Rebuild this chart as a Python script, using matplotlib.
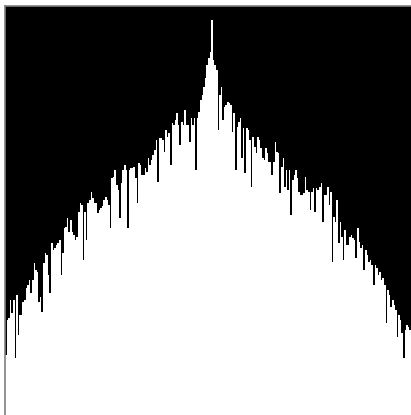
import matplotlib
matplotlib.use("Agg")
import matplotlib.pyplot as plt
import numpy as np

# histogram bin counts, 256 bins
counts_a = [60, 95, 97, 115, 102, 115, 57, 120, 80, 100,
            100, 113, 115, 127, 130, 135, 122, 135, 152, 145,
            143, 113, 118, 103, 152, 162, 160, 140, 122, 172,
            165, 167, 170, 172, 175, 140, 162, 187, 188, 197,
            183, 195, 183, 180, 175, 178, 203, 212, 210, 155,
            203, 175, 212, 215, 223, 217, 212, 212, 202, 205,
            207, 209, 215, 218, 215, 210, 187, 237, 238, 245,
            230, 225, 197, 232, 245, 250, 245, 187, 245, 247,
            247, 248, 237, 212, 252, 250, 240, 240, 247, 243,
            257, 250, 255, 260, 265, 275, 233, 277, 277, 275,
            263, 285, 278, 282, 250, 292, 290, 295, 302, 290,
            270, 293, 290, 305, 290, 290, 273, 297, 290, 297,
            245, 297, 303, 315, 320, 328, 337, 350, 357, 363]
counts_b = [395, 355, 350, 345, 285, 320, 328, 295, 308, 310,
            313, 312, 310, 283, 302, 245, 288, 293, 297, 257,
            287, 242, 287, 285, 275, 228, 278, 268, 262, 278,
            275, 267, 257, 255, 267, 262, 253, 253, 240, 253,
            273, 263, 262, 222, 248, 257, 228, 245, 225, 245,
            200, 235, 240, 245, 237, 223, 220, 220, 222, 238,
            225, 223, 205, 223, 227, 203, 227, 225, 228, 232,
            193, 220, 220, 228, 210, 223, 153, 198, 193, 215,
            172, 193, 178, 155, 185, 170, 170, 178, 180, 177,
            175, 157, 187, 173, 167, 170, 145, 165, 160, 153,
            155, 150, 130, 150, 147, 140, 143, 135, 137, 130,
            92, 125, 120, 108, 115, 110, 105, 78, 100, 95,
            82, 57, 85, 90, 88, 85]
counts = counts_a + counts_b
bins = np.arange(len(counts))

W, H = 411, 415
fig = plt.figure(figsize=(W / 100, H / 100), dpi=100)
fig.patch.set_facecolor("white")
ax = fig.add_axes([5 / W, 0, 406 / W, 409 / H])
ax.set_facecolor("black")
ax.bar(bins, counts, width=1.0, color="white", linewidth=0, align="center")
ax.set_xlim(-0.5, len(counts) - 0.5)
ax.set_ylim(0, 409)
ax.set_xticks([])
ax.set_yticks([])
for s in ["right", "bottom"]:
    ax.spines[s].set_visible(False)
for s in ["left", "top"]:
    ax.spines[s].set_color("#808080")
    ax.spines[s].set_linewidth(1.2)

fig.savefig("out.png", dpi=100)
